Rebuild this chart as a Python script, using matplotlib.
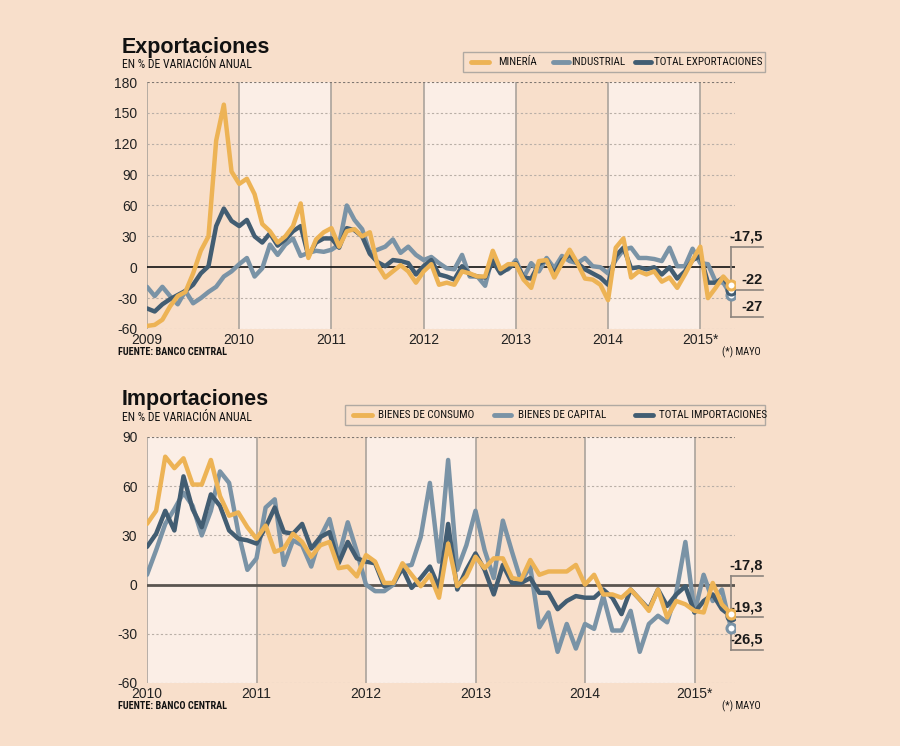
import matplotlib
matplotlib.use('Agg')
import matplotlib.pyplot as plt
from matplotlib.lines import Line2D
from matplotlib.patches import Rectangle

# ---------------- DATA ----------------
# Exportaciones (monthly, Jan 2009 - May 2015)
exp_years = ['2009', '2010', '2011', '2012', '2013', '2014', '2015*']
mineria = [-57, -56, -51, -38, -28, -24, -6, 16, 30, 123, 158, 93,
           81, 86, 71, 42, 35, 24, 30, 40, 62, 9, 27, 34,
           38, 20, 35, 37, 30, 34, 2, -10, -4, 2, -4, -15,
           -4, 3, -17, -15, -17, -4, -6, -9, -9, 16, -2, 3,
           3, -12, -20, 6, 7, -10, 4, 17, 4, -11, -12, -17,
           -32, 19, 28, -10, -4, -7, -4, -14, -10, -20, -7, 7,
           20, -30, -20, -9, -17.5]
industrial = [-19, -28, -19, -28, -36, -23, -35, -30, -24, -19, -9, -4,
              3, 9, -9, -1, 22, 12, 22, 28, 11, 14, 16, 15,
              17, 22, 60, 46, 37, 14, 17, 20, 27, 14, 20, 12,
              7, 10, 4, -1, -2, 12, -9, -9, -18, 12, -4, -2,
              7, -10, 4, -4, 9, -1, 11, 6, 4, 9, 1, 0,
              -6, 7, 17, 19, 9, 9, 8, 6, 19, 1, 1, 18,
              4, 3, -14, -15, -27]
total_exp = [-40, -43, -36, -31, -27, -23, -17, -6, 1, 40, 57, 45,
             40, 46, 30, 24, 33, 21, 27, 35, 40, 11, 24, 28,
             28, 19, 38, 36, 30, 13, 5, 1, 7, 6, 4, -7,
             1, 7, -7, -9, -12, 1, -7, -9, -10, 6, -6, -1,
             4, -10, -11, 3, 7, -7, 7, 12, 4, -2, -6, -10,
             -17, 11, 19, -1, 0, -2, 0, -7, 0, -11, -4, 7,
             11, -15, -15, -10, -22]
exp_labels = ['-17,5', '-22', '-27']

# Importaciones (monthly, Jan 2010 - May 2015)
imp_years = ['2010', '2011', '2012', '2013', '2014', '2015*']
consumo = [37, 45, 78, 71, 77, 61, 61, 76, 54, 42, 44, 35,
           28, 36, 20, 22, 31, 26, 17, 24, 26, 10, 11, 5,
           18, 14, 1, 1, 13, 6, -1, 6, -8, 25, -1, 5,
           17, 10, 16, 16, 4, 3, 15, 6, 8, 8, 8, 12,
           0, 6, -6, -6, -8, -3, -9, -16, -3, -20, -10, -12,
           -16, -17, 1, -12, -17.8]
capital = [6, 21, 37, 46, 56, 48, 30, 45, 69, 62, 32, 9,
           16, 47, 52, 12, 27, 24, 11, 29, 40, 17, 38, 20,
           0, -4, -4, 0, 11, 12, 29, 62, 14, 76, 9, 24,
           45, 21, 4, 39, 20, 2, 11, -26, -17, -41, -24, -39,
           -24, -27, -7, -28, -28, -16, -41, -24, -19, -23, -5, 26,
           -17, 6, -10, -3, -26.5]
total_imp = [23, 31, 45, 33, 66, 46, 35, 55, 48, 33, 28, 27,
             25, 35, 47, 32, 31, 37, 22, 29, 32, 13, 26, 16,
             14, 13, -1, 1, 10, -2, 4, 11, -2, 37, -3, 9,
             19, 9, -6, 12, 1, 1, 4, -5, -5, -15, -10, -7,
             -8, -8, -3, -8, -18, -3, -9, -15, -3, -13, -6, -1,
             -17, -10, -6, -15, -19.3]
imp_labels = ['-17,8', '-19,3', '-26,5']

# ---------------- STYLE ----------------
W, H = 900, 746
BG = '#F8DFCB'
LIGHT = '#FBEEE6'
C_Y = '#EDB355'
C_G = '#7A93A6'
C_D = '#425D72'
GRID = '#B9AFA7'
YEARLINE = '#ABA39C'
NARROW = ['Roboto Condensed', 'DejaVu Sans']
REG = ['Liberation Sans', 'DejaVu Sans']

fig = plt.figure(figsize=(9, 7.46), dpi=100)
fig.patch.set_facecolor(BG)


def fx(px):
    return px / W


def fy(py):
    return 1 - py / H


def narrow(x, y, s, size=8, weight='normal', ha='left'):
    return fig.text(fx(x), fy(y), s, fontfamily=NARROW, fontstretch='condensed',
                    fontsize=size, fontweight=weight, color='#111111',
                    va='center', ha=ha)


def make_chart(rect, series, colors, years, ylim, light_years, zero_color, zero_lw,
               labels, bracket):
    l, t, r, b = rect
    n = len(series[0])
    per = (731 - l) / (n - 1)
    xmax = (n - 1) + (r - 731) / per
    ax = fig.add_axes([fx(l), fy(b), (r - l) / W, (b - t) / H])
    ax.set_facecolor(BG)
    ax.set_xlim(0, xmax)
    ax.set_ylim(*ylim)
    for s in ax.spines.values():
        s.set_visible(False)
    for k in light_years:
        ax.axvspan(12 * k, min(12 * (k + 1), xmax), color=LIGHT, zorder=0, lw=0)
    ax.plot([0, 0], ylim, color=YEARLINE, lw=1.2, zorder=1)
    for k in range(1, len(years)):
        ax.plot([12 * k, 12 * k], ylim, color=YEARLINE, lw=1.2, zorder=1)
    yt = list(range(ylim[0], ylim[1] + 1, 30))
    for v in yt:
        if v == 0:
            continue
        c = '#7E7670' if v == ylim[1] else GRID
        ax.plot([0, xmax], [v, v], color=c, lw=0.8, ls=(0, (2, 2)), zorder=1)
    ax.plot([0, xmax], [0, 0], color=zero_color, lw=zero_lw, zorder=2)
    ax.set_yticks(yt)
    ax.set_yticklabels([str(v) for v in yt], fontfamily=REG, fontsize=10, color='#222222')
    ax.set_xticks([12 * k for k in range(len(years))])
    ax.set_xticklabels(years, fontfamily=REG, fontsize=10, color='#222222')
    ax.tick_params(axis='y', length=0, pad=7)
    ax.tick_params(axis='x', length=0, pad=3)
    xs = list(range(n))
    for z, (s, c) in enumerate(zip(series, colors)):
        ax.plot(xs, s, color=c, lw=3.2, solid_joinstyle='round', solid_capstyle='round',
                zorder=3 + z)
    for z, (s, c) in enumerate(zip(series, colors)):
        ax.plot([xs[-1]], [s[-1]], 'o', ms=6.5, mfc='white', mec=c, mew=2.2,
                zorder=10 + z)
    ytop, ymid, ybot, x1 = bracket
    bc = '#8C847E'
    x0 = xs[-1]
    ax.plot([x0, x0], [ytop, ybot], color=bc, lw=1.2, clip_on=False, zorder=8)
    ax.plot([x0, x1], [ytop, ytop], color=bc, lw=1.2, clip_on=False, zorder=8)
    ax.plot([x0 + 0.3, x1], [ymid, ymid], color=bc, lw=1.2, clip_on=False, zorder=8)
    ax.plot([x0, x1], [ybot, ybot], color=bc, lw=1.2, clip_on=False, zorder=8)
    for lab, yv in zip(labels, [ytop, ymid, ybot]):
        ax.annotate(lab, (x1, yv), xytext=(0, 2), textcoords='offset points',
                    ha='right', va='bottom', fontfamily=REG, fontweight='bold',
                    fontsize=10.5, color='#1a1a1a', annotation_clip=False)
    return ax


make_chart((147, 82, 735, 329), [industrial, total_exp, mineria], [C_G, C_D, C_Y],
           exp_years, (-60, 180), [1, 3, 5], '#111111', 1.2, exp_labels,
           (20, total_exp[-1], -48, 76 + 32 / 7.684))

make_chart((147, 437, 735, 683), [capital, total_imp, consumo], [C_G, C_D, C_Y],
           imp_years, (-60, 90), [0, 2, 4], '#5A5550', 2.0, imp_labels,
           (5.5, -20, -39.6, 64 + 32 / 9.125))

# Titles
fig.text(fx(122), fy(53), 'Exportaciones', fontfamily=REG, fontweight='bold',
         fontsize=15.5, color='#111111', va='baseline')
narrow(122, 64, 'EN % DE VARIACIÓN ANUAL', size=8.5)
fig.text(fx(122), fy(405), 'Importaciones', fontfamily=REG, fontweight='bold',
         fontsize=15.5, color='#111111', va='baseline')
narrow(122, 417, 'EN % DE VARIACIÓN ANUAL', size=8.5)


def legend(box, items):
    x0, y0, x1, y1 = box
    fig.add_artist(Rectangle((fx(x0), fy(y1)), (x1 - x0) / W, (y1 - y0) / H,
                             transform=fig.transFigure, facecolor='none',
                             edgecolor='#B0A9A2', lw=1))
    yc = (y0 + y1) / 2
    for lx0, lx1, tx, c, lab in items:
        fig.add_artist(Line2D([fx(lx0), fx(lx1)], [fy(yc), fy(yc)], color=c, lw=3.5,
                              solid_capstyle='round', transform=fig.transFigure))
        narrow(tx, yc, lab, size=8)


legend((463, 52, 765, 72),
       [(471, 489, 498, C_Y, 'MINERÍA'), (553, 569, 571, C_G, 'INDUSTRIAL'),
        (635, 651, 654, C_D, 'TOTAL EXPORTACIONES')])
legend((345, 405, 765, 425),
       [(353, 372, 378, C_Y, 'BIENES DE CONSUMO'), (494, 511, 518, C_G, 'BIENES DE CAPITAL'),
        (635, 653, 659, C_D, 'TOTAL IMPORTACIONES')])

for yv in (352, 706):
    narrow(118, yv, 'FUENTE: BANCO CENTRAL', size=7.3, weight='bold')
    narrow(761, yv, '(*) MAYO', size=7.5, ha='right')

fig.savefig('out.png', dpi=100, facecolor=BG)
